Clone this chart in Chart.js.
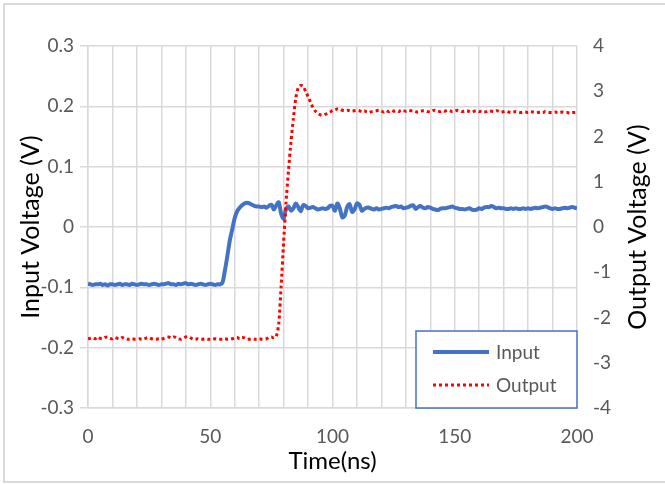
<!DOCTYPE html>
<html>
<head>
<meta charset="utf-8">
<script src="https://cdn.jsdelivr.net/npm/chart.js@4/dist/chart.umd.min.js"></script>
<style>
  html, body { margin: 0; padding: 0; background: #fff; }
  #wrap { width: 665px; height: 484px; }
</style>
</head>
<body>
<div id="wrap"><canvas id="myChart" width="665" height="484"></canvas></div>
<script>
// time axis (ns)
const timeNs = [
  0, 1, 2, 3, 4, 5, 6, 7, 8, 9, 10, 11, 12, 13, 14, 15, 16, 17, 18, 19,
  20, 21, 22, 23, 24, 25, 26, 27, 28, 29, 30, 31, 32, 33, 34, 35, 36, 37, 38, 39,
  40, 41, 42, 43, 44, 45, 46, 47, 48, 49, 50, 51, 52, 53, 54, 55, 56, 57, 58, 59,
  60, 61, 62, 63, 64, 65, 66, 67, 68, 69, 70, 71, 72, 73, 74, 75, 76, 77, 78, 79,
  80, 81, 82, 83, 84, 85, 86, 87, 88, 89, 90, 91, 92, 93, 94, 95, 96, 97, 98, 99,
  100, 101, 102, 103, 104, 105, 106, 107, 108, 109, 110, 111, 112, 113, 114, 115, 116, 117, 118, 119,
  120, 121, 122, 123, 124, 125, 126, 127, 128, 129, 130, 131, 132, 133, 134, 135, 136, 137, 138, 139,
  140, 141, 142, 143, 144, 145, 146, 147, 148, 149, 150, 151, 152, 153, 154, 155, 156, 157, 158, 159,
  160, 161, 162, 163, 164, 165, 166, 167, 168, 169, 170, 171, 172, 173, 174, 175, 176, 177, 178, 179,
  180, 181, 182, 183, 184, 185, 186, 187, 188, 189, 190, 191, 192, 193, 194, 195, 196, 197, 198, 199,
  200
];

// 入力電圧 (V) - left axis
const inputVolt = [
  -0.094, -0.095, -0.096, -0.095, -0.095, -0.094, -0.096, -0.095, -0.097, -0.095,
  -0.095, -0.096, -0.095, -0.094, -0.096, -0.095, -0.095, -0.096, -0.094, -0.095,
  -0.096, -0.095, -0.094, -0.095, -0.095, -0.096, -0.095, -0.094, -0.095, -0.096,
  -0.095, -0.095, -0.094, -0.093, -0.095, -0.095, -0.096, -0.094, -0.095, -0.094,
  -0.093, -0.095, -0.094, -0.095, -0.096, -0.095, -0.094, -0.095, -0.096, -0.095,
  -0.094, -0.095, -0.096, -0.095, -0.095, -0.092, -0.072, -0.048, -0.022, -0.004,
  0.015, 0.026, 0.032, 0.036, 0.039, 0.040, 0.039, 0.037, 0.035, 0.034,
  0.034, 0.033, 0.034, 0.032, 0.035, 0.037, 0.029, 0.036, 0.041, 0.022,
  0.014, 0.030, 0.034, 0.027, 0.031, 0.039, 0.033, 0.026, 0.036, 0.035,
  0.031, 0.032, 0.033, 0.031, 0.029, 0.030, 0.031, 0.030, 0.031, 0.035,
  0.035, 0.027, 0.039, 0.031, 0.016, 0.019, 0.033, 0.038, 0.025, 0.029,
  0.039, 0.037, 0.027, 0.030, 0.032, 0.032, 0.030, 0.029, 0.031, 0.029,
  0.030, 0.031, 0.032, 0.031, 0.033, 0.034, 0.035, 0.033, 0.034, 0.031,
  0.032, 0.033, 0.035, 0.036, 0.030, 0.033, 0.035, 0.032, 0.031, 0.033,
  0.032, 0.030, 0.029, 0.028, 0.030, 0.031, 0.031, 0.032, 0.033, 0.034,
  0.032, 0.031, 0.030, 0.030, 0.029, 0.030, 0.031, 0.029, 0.028, 0.029,
  0.031, 0.030, 0.032, 0.033, 0.033, 0.035, 0.033, 0.031, 0.032, 0.031,
  0.031, 0.030, 0.030, 0.031, 0.030, 0.031, 0.030, 0.030, 0.031, 0.030,
  0.031, 0.030, 0.031, 0.032, 0.031, 0.032, 0.033, 0.034, 0.033, 0.031,
  0.030, 0.031, 0.030, 0.030, 0.031, 0.032, 0.031, 0.032, 0.033, 0.032,
  0.031
];

// 出力電圧 (V) - right axis
const outputVolt = [
  -2.47, -2.46, -2.45, -2.47, -2.43, -2.46, -2.47, -2.44, -2.43, -2.46,
  -2.47, -2.44, -2.46, -2.47, -2.44, -2.47, -2.48, -2.48, -2.47, -2.48,
  -2.48, -2.47, -2.48, -2.47, -2.45, -2.44, -2.47, -2.48, -2.48, -2.47,
  -2.48, -2.46, -2.44, -2.43, -2.45, -2.43, -2.44, -2.47, -2.48, -2.46,
  -2.43, -2.42, -2.45, -2.48, -2.48, -2.47, -2.48, -2.48, -2.47, -2.48,
  -2.48, -2.48, -2.47, -2.48, -2.48, -2.48, -2.47, -2.48, -2.48, -2.47,
  -2.45, -2.44, -2.47, -2.44, -2.45, -2.48, -2.48, -2.47, -2.48, -2.48,
  -2.47, -2.48, -2.48, -2.47, -2.44, -2.43, -2.45, -2.42, -2.15, -1.30,
  -0.35, 0.55, 1.25, 1.88, 2.40, 2.86, 3.08, 3.13, 3.11, 3.00,
  2.88, 2.76, 2.64, 2.56, 2.51, 2.48, 2.47, 2.49, 2.51, 2.54,
  2.57, 2.59, 2.61, 2.61, 2.58, 2.57, 2.58, 2.57, 2.56, 2.57,
  2.58, 2.57, 2.55, 2.57, 2.54, 2.53, 2.55, 2.56, 2.57, 2.58,
  2.56, 2.54, 2.57, 2.55, 2.58, 2.56, 2.57, 2.55, 2.58, 2.57,
  2.56, 2.58, 2.57, 2.57, 2.55, 2.54, 2.56, 2.57, 2.57, 2.55,
  2.54, 2.57, 2.58, 2.56, 2.55, 2.57, 2.56, 2.58, 2.57, 2.55,
  2.56, 2.58, 2.57, 2.55, 2.56, 2.57, 2.55, 2.54, 2.56, 2.57,
  2.55, 2.56, 2.54, 2.55, 2.57, 2.56, 2.55, 2.57, 2.56, 2.54,
  2.55, 2.56, 2.54, 2.53, 2.54, 2.55, 2.54, 2.53, 2.54, 2.54,
  2.53, 2.55, 2.54, 2.53, 2.53, 2.54, 2.53, 2.55, 2.54, 2.53,
  2.53, 2.54, 2.53, 2.53, 2.54, 2.53, 2.53, 2.52, 2.53, 2.53,
  2.53
];

// tick labels
const timeTicks = [0, 50, 100, 150, 200];

const FONT = 'Lato, "Open Sans", sans-serif';
const gridColor = '#d9d9d9';
const labelColor = '#595959';

const ctx = document.getElementById('myChart').getContext('2d');

// 背景と外枠
const framePlugin = {
    id: 'frame',
    beforeDraw(chart) {
        const c = chart.ctx;
        c.save();
        c.fillStyle = '#fff';
        c.fillRect(0, 0, chart.width, chart.height);
        c.strokeStyle = '#d9d9d9';
        c.lineWidth = 2;
        c.strokeRect(4, 4, chart.width + 10, chart.height - 6);
        c.restore();
    }
};

// 右軸タイトル（下から上へ読む向き）
const rightTitle = {
    id: 'rightTitle',
    afterDraw(chart) {
        const c = chart.ctx;
        const area = chart.chartArea;
        c.save();
        c.translate(area.right + 61, (area.top + area.bottom) / 2);
        c.rotate(-Math.PI / 2);
        c.font = '25px ' + FONT;
        c.fillStyle = '#000';
        c.textAlign = 'center';
        c.textBaseline = 'middle';
        c.fillText('Output Voltage (V)', 0, 0);
        c.restore();
    }
};

// 凡例（グラフ内右下）
const boxLegend = {
    id: 'boxLegend',
    afterDraw(chart) {
        const c = chart.ctx;
        const area = chart.chartArea;
        const x0 = area.right - 161, y0 = area.bottom - 77;
        c.save();
        c.fillStyle = '#fff';
        c.fillRect(x0, y0, 161, 77);
        c.strokeStyle = '#4472C4';
        c.lineWidth = 1.5;
        c.strokeRect(x0, y0, 161, 77);
        c.font = '19px ' + FONT;
        c.textBaseline = 'middle';
        chart.data.datasets.forEach((ds, i) => {
            const y = y0 + 21 + i * 33;
            c.beginPath();
            c.strokeStyle = ds.borderColor;
            c.lineWidth = ds.borderWidth;
            c.setLineDash(ds.borderDash || []);
            c.moveTo(x0 + 17, y);
            c.lineTo(x0 + 73, y);
            c.stroke();
            c.setLineDash([]);
            c.fillStyle = labelColor;
            c.fillText(ds.label, x0 + 80, y + 1);
        });
        c.restore();
    }
};

const data = {
    datasets: [
        {
            label: 'Input',
            data: timeNs.map((t, i) => ({ x: t, y: inputVolt[i] })),
            borderColor: '#4472C4',
            borderWidth: 4,
            pointRadius: 0,
            tension: 0.3,
            yAxisID: 'y',
            order: 2
        },
        {
            label: 'Output',
            data: timeNs.map((t, i) => ({ x: t, y: outputVolt[i] })),
            borderColor: '#FF0000',
            borderWidth: 3,
            borderDash: [3, 3],
            borderCapStyle: 'butt',
            pointRadius: 0,
            tension: 0.2,
            yAxisID: 'y1',
            order: 1
        }
    ]
};

const config = {
    type: 'line',
    data: data,
    options: {
        responsive: false,
        animation: false,
        layout: { padding: { left: 8, right: 8, top: 46, bottom: 8 } },
        scales: {
            x: {
                type: 'linear',
                min: 0,
                max: 200,
                ticks: {
                    stepSize: 10,
                    autoSkip: false,
                    maxRotation: 0,
                    padding: 17,
                    color: labelColor,
                    font: { family: FONT, size: 19 },
                    callback: (v) => timeTicks.includes(v) ? String(v) : ''
                },
                grid: { color: gridColor, lineWidth: 1.5, drawTicks: false },
                border: { color: gridColor, width: 1.5 },
                title: {
                    display: true,
                    text: 'Time(ns)',
                    color: '#000',
                    font: { family: FONT, size: 24 },
                    padding: { top: 0, bottom: 0 }
                },
                afterFit: (s) => { s.height = 68; }
            },
            y: {
                position: 'left',
                min: -0.3,
                max: 0.3,
                ticks: {
                    stepSize: 0.1,
                    padding: 6,
                    color: labelColor,
                    font: { family: FONT, size: 19 },
                    callback: (v) => String(Math.round(v * 10) / 10)
                },
                grid: { color: gridColor, lineWidth: 1.5, tickLength: 8, tickColor: gridColor },
                border: { color: gridColor, width: 1.5 },
                title: {
                    display: true,
                    text: 'Input Voltage (V)',
                    color: '#000',
                    font: { family: FONT, size: 25 },
                    padding: { top: 8, bottom: 0 }
                },
                afterFit: (s) => { s.width = 80; }
            },
            y1: {
                position: 'right',
                min: -4,
                max: 4,
                ticks: {
                    stepSize: 1,
                    padding: 16,
                    color: labelColor,
                    font: { family: FONT, size: 19 }
                },
                grid: { display: false, drawTicks: false },
                border: { display: false },
                afterFit: (s) => { s.width = 80; }
            }
        },
        plugins: {
            legend: { display: false },
            tooltip: { enabled: false }
        }
    },
    plugins: [framePlugin, rightTitle, boxLegend]
};

const myChart = new Chart(ctx, config);
</script>
</body>
</html>
